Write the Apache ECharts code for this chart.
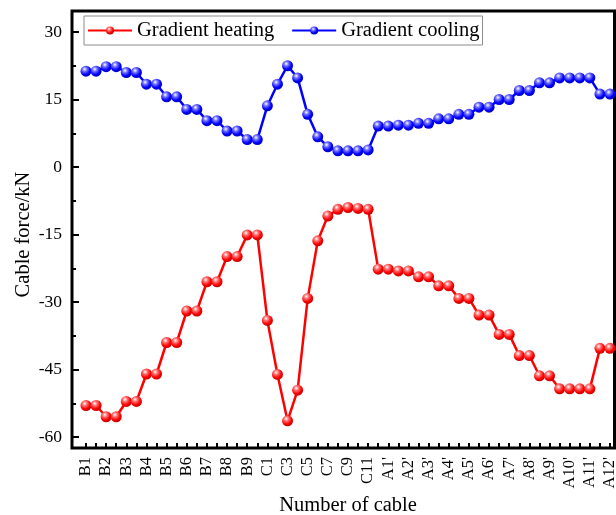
<!DOCTYPE html>
<html>
<head>
<meta charset="utf-8">
<script src="https://cdn.jsdelivr.net/npm/echarts@6/dist/echarts.min.js"></script>
<style>
  html, body { margin: 0; padding: 0; background: #fff; }
  #chart { width: 616px; height: 515px; }
</style>
</head>
<body>
<div id="chart"></div>
<script>
// Cable order along the bridge: B side pairs, C cables, A' side pairs
const cableNames = [
  'B1', 'B1b', 'B2', 'B2b', 'B3', 'B3b', 'B4', 'B4b', 'B5', 'B5b',
  'B6', 'B6b', 'B7', 'B7b', 'B8', 'B8b', 'B9', 'B9b',
  'C1', 'C2', 'C3', 'C4', 'C5', 'C6', 'C7', 'C8', 'C9', 'C10', 'C11',
  "A1b", "A1'", "A2b", "A2'", "A3b", "A3'", "A4b", "A4'", "A5b", "A5'",
  "A6b", "A6'", "A7b", "A7'", "A8b", "A8'", "A9b", "A9'", "A10b", "A10'",
  "A11b", "A11'", "A12b", "A12'"
];

// Cable force change (kN)
const heating = [
  -53.0, -53.0, -55.5, -55.5, -52.1, -52.1, -46.0, -46.0, -39.0, -39.0,
  -32.0, -32.0, -25.5, -25.5, -19.9, -19.9, -15.1, -15.1,
  -34.1, -46.1, -56.4, -49.6, -29.2, -16.4, -10.9, -9.4, -9.0, -9.2, -9.4,
  -22.7, -22.7, -23.1, -23.1, -24.4, -24.4, -26.4, -26.4, -29.2, -29.2,
  -32.9, -32.9, -37.2, -37.2, -41.9, -41.9, -46.4, -46.4, -49.3, -49.3,
  -49.3, -49.3, -40.3, -40.3
];
const cooling = [
  21.3, 21.3, 22.3, 22.3, 21.0, 21.0, 18.4, 18.4, 15.6, 15.6,
  12.8, 12.8, 10.3, 10.3, 8.0, 8.0, 6.1, 6.1,
  13.6, 18.4, 22.5, 19.8, 11.7, 6.7, 4.5, 3.6, 3.6, 3.6, 3.8,
  9.1, 9.1, 9.3, 9.3, 9.7, 9.7, 10.7, 10.7, 11.7, 11.7,
  13.3, 13.3, 15.0, 15.0, 17.0, 17.0, 18.7, 18.7, 19.8, 19.8,
  19.8, 19.8, 16.2, 16.2
];

const seriesNames = ['Gradient heating', 'Gradient cooling'];
const yMin = -60, yMax = 30, yStep = 15;

const FONT = '"Liberation Serif", "Times New Roman", serif';

// shaded sphere fill for the point markers
function ball(light, base, rim) {
  return {
    type: 'radial', x: 0.38, y: 0.32, r: 0.75,
    colorStops: [
      { offset: 0, color: '#ffffff' },
      { offset: 0.28, color: light },
      { offset: 0.65, color: base },
      { offset: 1, color: rim }
    ]
  };
}

const chart = echarts.init(document.getElementById('chart'), null, { renderer: 'canvas' });

chart.setOption({
  animation: false,
  backgroundColor: '#fff',
  textStyle: { fontFamily: FONT, color: '#000' },
  legend: {
    left: 84, top: 16,
    padding: [4, 3],
    borderColor: '#8c8c8c', borderWidth: 1,
    itemWidth: 44, itemHeight: 10, itemGap: 17,
    textStyle: { fontFamily: FONT, fontSize: 20.5, color: '#000' },
    data: seriesNames
  },
  grid: [
    // outer frame
    { left: 72, top: 11, right: 1.5, bottom: 67, show: true, borderColor: '#000', borderWidth: 3,
      containLabel: false, outerBoundsMode: 'none' },
    // plotting area: y = 30 at the top edge, y = -60 at the bottom edge
    { left: 86, top: 32, right: 6, bottom: 78, containLabel: false, outerBoundsMode: 'none' },
    // cable axis running along the bottom of the frame
    { left: 86, top: 32, right: 6, bottom: 67, containLabel: false, outerBoundsMode: 'none' }
  ],
  xAxis: [
    { gridIndex: 0, type: 'value', show: false, min: 0, max: 1 },
    { gridIndex: 1, type: 'category', data: cableNames, boundaryGap: false, show: false },
    {
      gridIndex: 2, type: 'category', data: cableNames, boundaryGap: false,
      axisLine: { show: false, onZero: false },
      axisTick: { show: true, inside: true, length: 5, interval: 0, lineStyle: { color: '#000', width: 2 } },
      axisLabel: { interval: 1, rotate: 90, margin: 9, fontFamily: FONT, fontSize: 16.5, color: '#000' },
      splitLine: { show: false },
      name: 'Number of cable', nameLocation: 'middle', nameGap: 47, nameMoveOverlap: false,
      nameTextStyle: { fontFamily: FONT, fontSize: 20.5, color: '#000' }
    }
  ],
  yAxis: [
    { gridIndex: 0, type: 'value', show: false, min: 0, max: 1 },
    {
      gridIndex: 1, type: 'value', min: yMin, max: yMax, interval: yStep,
      offset: 14,
      axisLine: { show: false },
      axisTick: { show: true, inside: true, length: 7, lineStyle: { color: '#000', width: 2 } },
      minorTick: { show: true, splitNumber: 2, length: 4, lineStyle: { color: '#000', width: 2 } },
      axisLabel: { margin: 10, fontFamily: FONT, fontSize: 17.5, color: '#000' },
      splitLine: { show: false },
      minorSplitLine: { show: false },
      name: 'Cable force/kN', nameLocation: 'middle', nameGap: 38, nameMoveOverlap: false,
      nameTextStyle: { fontFamily: FONT, fontSize: 20.5, color: '#000' }
    },
    { gridIndex: 2, type: 'value', show: false, min: 0, max: 1 }
  ],
  series: [
    {
      name: seriesNames[0], type: 'line', xAxisIndex: 1, yAxisIndex: 1,
      data: heating, clip: false,
      symbol: 'circle', symbolSize: 11, showSymbol: true, showAllSymbol: true,
      lineStyle: { color: '#ff0000', width: 2.5 },
      itemStyle: { color: ball('#ff7070', '#ff0000', '#b00000') }
    },
    {
      name: seriesNames[1], type: 'line', xAxisIndex: 1, yAxisIndex: 1,
      data: cooling, clip: false,
      symbol: 'circle', symbolSize: 11, showSymbol: true, showAllSymbol: true,
      lineStyle: { color: '#0000ff', width: 2.5 },
      itemStyle: { color: ball('#7070ff', '#0000ff', '#0000b0') }
    }
  ]
});
</script>
</body>
</html>
